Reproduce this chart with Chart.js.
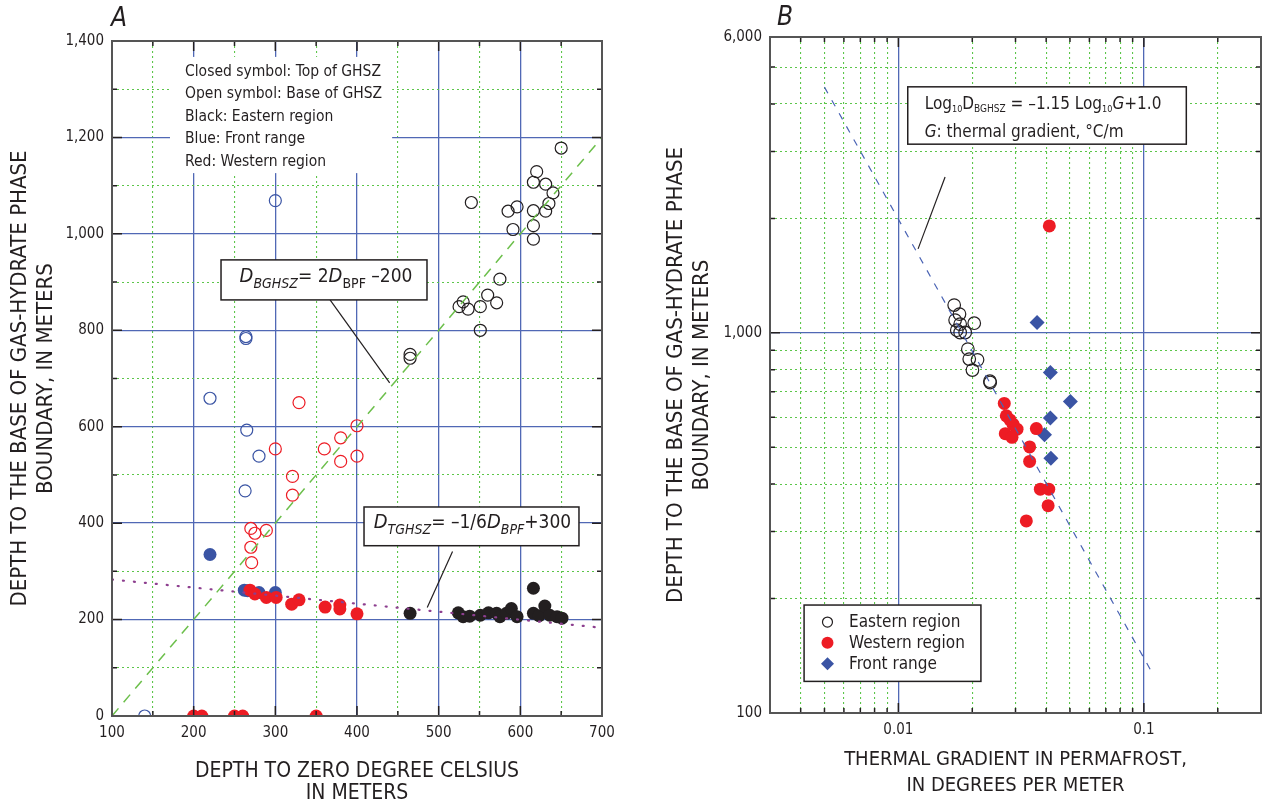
<!DOCTYPE html>
<html>
<head>
<meta charset="utf-8">
<script src="https://cdn.jsdelivr.net/npm/chart.js@4.4.1/dist/chart.umd.min.js"></script>
<style>
  html, body { margin: 0; padding: 0; background: #fff; overflow: hidden; width: 1262px; height: 805px; }
  #wrapA { position: absolute; left: 0; top: 0; width: 640px; height: 805px; }
  #wrapB { position: absolute; left: 640px; top: 0; width: 629px; height: 805px; }
</style>
</head>
<body>
<div id="wrapA"><canvas id="chartA"></canvas></div>
<div id="wrapB"><canvas id="chartB"></canvas></div>
<script>
const FONT = "'Liberation Sans Narrow', 'DejaVu Sans Condensed', 'Arial Narrow', Roboto, sans-serif";
const INK = '#231f20';
const BLUE = '#3a54a4';
const RED = '#ed1c24';
const GRID_BLUE = '#5068b5';
const GRID_GREEN = '#5cc64a';

// ---- panel A: [depth to 0 degC (m), depth to phase boundary (m)] ----
const eastTopA = [[465,213],[616,265],[524,214],[530,206],[538,207],[551,209],[561,214],[571,213],
  [575,206],[583,213],[589,223],[596,206],[616,213],[623,208],[630,228],[636,209],[645,206],[651,203]];
const eastBaseA = [[650,1178],[620,1129],[616,1107],[631,1103],[640,1085],[540,1065],[635,1063],[596,1056],
  [585,1047],[616,1048],[631,1047],[616,1017],[591,1009],[616,989],[575,906],[560,873],[530,859],
  [525,849],[536,844],[551,849],[571,857],[551,800],[465,750],[465,742]];
const frontTopA = [[220,335],[262,261],[266,260],[280,256],[300,256]];
const frontBaseA = [[300,1069],[264,787],[264,783],[220,659],[265,593],[280,539],[263,467],[140,0]];
const westTopA = [[269,261],[275,253],[289,246],[301,246],[320,232],[329,241],[361,226],[379,230],
  [379,222],[400,212],[200,0],[210,0],[250,0],[260,0],[350,0]];
const westBaseA = [[329,650],[300,554],[400,602],[380,577],[360,554],[380,528],[400,539],[321,497],
  [321,458],[270,389],[275,379],[289,385],[270,350],[271,318]];
const bghszLineA = [[100,0],[700,1200]];
const tghszLineA = [[100,283],[700,183]];

const xTicksA = [100,150,200,250,300,350,400,450,500,550,600,650,700];
const xLabelValsA = [100,200,300,400,500,600,700];
const xLabelsA = ['100','200','300','400','500','600','700'];
const yTicksA = [0,100,200,300,400,500,600,700,800,900,1000,1100,1200,1300,1400];
const yLabelValsA = [0,200,400,600,800,1000,1200,1400];
const yLabelsA = ['0','200','400','600','800','1,000','1,200','1,400'];

// ---- panel B: [thermal gradient (degC/m), depth to base of GHSZ (m)] ----
const eastB = [[0.01688,1183],[0.01774,1120],[0.01703,1080],[0.01785,1054],[0.02037,1060],[0.01785,1002],
  [0.01871,1002],[0.0173,1016],[0.01919,906],[0.01944,853],[0.02101,849],[0.02003,798],[0.02366,740],[0.0236,746]];
const westB = [[0.0270,652],[0.02753,605],[0.0293,575],[0.03044,558],[0.02726,543],[0.02903,531],[0.0285,590],
  [0.03648,560],[0.03425,501],[0.03425,459],[0.03787,388],[0.04098,388],[0.04074,351],[0.03321,320],[0.0412,1911]];
const frontB = [[0.03673,1064],[0.0416,786],[0.0502,660],[0.0416,597],[0.03937,539],[0.0418,468]];
const fitLineB = [[0.005,4430],[0.11,125]];

const xTicksB = [0.003,0.004,0.005,0.006,0.007,0.008,0.009,0.01,0.02,0.03,0.04,0.05,0.06,0.07,0.08,0.09,0.1,0.2,0.3];
const xLabelValsB = [0.01,0.1];
const xLabelsB = ['0.01','0.1'];
const yTicksB = [100,200,300,400,500,600,700,800,900,1000,2000,3000,4000,5000,6000];
const yLabelValsB = [100,1000,6000];
const yLabelsB = ['100','1,000','6,000'];

const legendTextA = ['Closed symbol: Top of GHSZ','Open symbol: Base of GHSZ','Black: Eastern region',
  'Blue: Front range','Red: Western region'];
const legendB = ['Eastern region','Western region','Front range'];

function xy(arr) { return arr.map(p => ({x: p[0], y: p[1]})); }
function labelFor(vals, labels) {
  return v => {
    const i = vals.findIndex(a => Math.abs(a - v) < 1e-9 * Math.max(1, a));
    return i < 0 ? '' : labels[i];
  };
}
const pow10 = v => Math.abs(Math.log10(v) - Math.round(Math.log10(v))) < 1e-6;

function pts(data, fill, stroke, r, bw, style) {
  return {
    type: 'scatter', data: xy(data), pointStyle: style || 'circle',
    pointRadius: r, pointHoverRadius: r, pointBackgroundColor: fill,
    pointBorderColor: stroke, pointBorderWidth: bw, clip: 0
  };
}
function lineDs(data, color, dash, w, cap) {
  return {
    type: 'line', data: xy(data), borderColor: color, borderWidth: w, borderDash: dash,
    borderCapStyle: cap || 'butt', pointRadius: 0, fill: false, clip: 0
  };
}

function axis(opts) {
  const major = opts.major;
  return {
    type: opts.type, min: opts.min, max: opts.max,
    afterBuildTicks: s => { s.ticks = opts.ticks.map(v => ({value: v})); },
    afterFit: s => { if (opts.w) s.width = opts.w; if (opts.h) s.height = opts.h; },
    grid: {
      drawTicks: false,
      color: c => c.tick && major(c.tick.value) ? GRID_BLUE : GRID_GREEN,
      lineWidth: c => c.tick && major(c.tick.value) ? 1.3 : 1.1
    },
    border: { display: false, dash: c => c.tick && major(c.tick.value) ? [] : [2, 3] },
    ticks: {
      autoSkip: false, maxRotation: 0, padding: 8, color: INK,
      font: {family: FONT, size: 15}, callback: opts.label
    },
    title: {
      display: true, text: opts.title, color: INK,
      font: {family: FONT, size: opts.ts, lineHeight: opts.lh}, padding: opts.tpad
    }
  };
}

function rich(ctx, segs, x, y, align) {
  const f = s => (s[2] ? 'italic ' : '') + s[1] + 'px ' + FONT;
  let w = 0;
  segs.forEach(s => { ctx.font = f(s); w += ctx.measureText(s[0]).width; });
  let cx = align === 'center' ? x - w / 2 : x;
  ctx.textAlign = 'left';
  ctx.textBaseline = 'alphabetic';
  segs.forEach(s => { ctx.font = f(s); ctx.fillText(s[0], cx, y + (s[3] || 0)); cx += ctx.measureText(s[0]).width; });
}

function box(ctx, x1, y1, x2, y2, border) {
  ctx.fillStyle = '#fff';
  ctx.fillRect(x1, y1, x2 - x1, y2 - y1);
  if (border) {
    ctx.strokeStyle = INK; ctx.lineWidth = 1.5;
    ctx.strokeRect(x1, y1, x2 - x1, y2 - y1);
  }
}

function leader(ctx, x1, y1, x2, y2) {
  ctx.strokeStyle = INK; ctx.lineWidth = 1.2;
  ctx.beginPath(); ctx.moveTo(x1, y1); ctx.lineTo(x2, y2); ctx.stroke();
}

function frame(chart, majorX, majorY) {
  const {ctx, chartArea: a, scales: {x, y}} = chart;
  ctx.save();
  ctx.strokeStyle = INK; ctx.lineWidth = 1.5;
  ctx.beginPath();
  x.ticks.forEach(t => {
    const p = x.getPixelForValue(t.value), len = majorX(t.value) ? 10 : 5;
    ctx.moveTo(p, a.bottom); ctx.lineTo(p, a.bottom - len);
    ctx.moveTo(p, a.top); ctx.lineTo(p, a.top + len);
  });
  y.ticks.forEach(t => {
    const p = y.getPixelForValue(t.value), len = majorY(t.value) ? 10 : 5;
    ctx.moveTo(a.left, p); ctx.lineTo(a.left + len, p);
    ctx.moveTo(a.right, p); ctx.lineTo(a.right - len, p);
  });
  ctx.stroke();
  ctx.strokeStyle = '#555'; ctx.lineWidth = 2;
  ctx.strokeRect(a.left, a.top, a.right - a.left, a.bottom - a.top);
  ctx.restore();
}

const majorXA = v => v % 100 === 0;
const majorYA = v => v % 200 === 0;

const decorA = {
  id: 'decorA',
  afterDatasetsDraw(chart) {
    const {ctx, scales: {x, y}} = chart;
    const X = v => x.getPixelForValue(v), Y = v => y.getPixelForValue(v);
    ctx.save();
    // explanation block
    const top = Y(1367);
    box(ctx, X(171), top, X(443), Y(1126), false);
    ctx.fillStyle = INK; ctx.font = '15.5px ' + FONT; ctx.textAlign = 'left'; ctx.textBaseline = 'alphabetic';
    legendTextA.forEach((t, i) => ctx.fillText(t, X(171) + 15, top + 19 + i * 22.5));
    // equation boxes
    leader(ctx, X(367), Y(863), X(440), Y(691));
    box(ctx, X(233.5), Y(946), X(485.7), Y(863), true);
    ctx.fillStyle = INK;
    rich(ctx, [['D',20,1,0],['BGHSZ',14,1,6],['= 2',19,0,0],['D',20,1,0],['BPF',14,0,6],[' \u2013200',19,0,0]],
      (X(233.5) + X(485.7)) / 2 + 2, Y(946) + 22, 'center');
    leader(ctx, X(517), Y(341), X(486), Y(225));
    box(ctx, X(408.6), Y(433.5), X(671.8), Y(353.2), true);
    ctx.fillStyle = INK;
    rich(ctx, [['D',20,1,0],['TGHSZ',14,1,6],['= \u20131/6',19,0,0],['D',20,1,0],['BPF',14,1,6],['+300',19,0,0]],
      (X(408.6) + X(671.8)) / 2 + 1, Y(433.5) + 21, 'center');
    ctx.restore();
    frame(chart, majorXA, majorYA);
    ctx.save();
    ctx.fillStyle = INK; ctx.font = 'italic 26px ' + FONT; ctx.textAlign = 'center'; ctx.textBaseline = 'middle';
    ctx.fillText('A', chart.chartArea.left + 7, 19);
    ctx.restore();
  }
};

const decorB = {
  id: 'decorB',
  afterDatasetsDraw(chart) {
    const {ctx, scales: {x, y}} = chart;
    const X = v => x.getPixelForValue(v), Y = v => y.getPixelForValue(v);
    ctx.save();
    leader(ctx, X(0.0155), Y(2570), X(0.01203), Y(1663));
    const bx1 = X(0.01092), by1 = Y(4437);
    box(ctx, bx1, by1, X(0.1489), Y(3135), true);
    ctx.fillStyle = INK;
    rich(ctx, [['Log',17,0,0],['10',9,0,3],['D',17,0,0],['BGHSZ',10,0,3],[' = \u20131.15 Log',17,0,0],
      ['10',9,0,3],['G',17,1,0],['+1.0',17,0,0]], bx1 + 17, by1 + 22, 'left');
    rich(ctx, [['G',17,1,0],[': thermal gradient, \u00b0C/m',17,0,0]], bx1 + 17, by1 + 50, 'left');
    // legend
    const lx = X(0.00413), ly = Y(192.3);
    box(ctx, lx, ly, X(0.02169), Y(121.1), true);
    const rows = [17, 37.7, 58.7];
    ctx.font = '17px ' + FONT; ctx.textAlign = 'left'; ctx.textBaseline = 'middle';
    legendB.forEach((t, i) => {
      const cy = ly + rows[i], cx = lx + 23.4;
      ctx.beginPath();
      if (i === 2) {
        ctx.moveTo(cx, cy - 6.5); ctx.lineTo(cx + 6.5, cy); ctx.lineTo(cx, cy + 6.5); ctx.lineTo(cx - 6.5, cy); ctx.closePath();
        ctx.fillStyle = BLUE; ctx.fill();
      } else if (i === 1) {
        ctx.arc(cx, cy, 6, 0, Math.PI * 2); ctx.fillStyle = RED; ctx.fill();
      } else {
        ctx.arc(cx, cy, 5, 0, Math.PI * 2); ctx.strokeStyle = INK; ctx.lineWidth = 1.2; ctx.stroke();
      }
      ctx.fillStyle = INK;
      ctx.fillText(t, lx + 45, cy + 1);
    });
    ctx.restore();
    frame(chart, pow10, pow10);
    ctx.save();
    ctx.fillStyle = INK; ctx.font = 'italic 26px ' + FONT; ctx.textAlign = 'center'; ctx.textBaseline = 'middle';
    ctx.fillText('B', chart.chartArea.left + 15, 18);
    ctx.restore();
  }
};

const common = {
  animation: false, responsive: true, maintainAspectRatio: false, events: [],
  plugins: { legend: {display: false}, tooltip: {enabled: false} }
};

new Chart(document.getElementById('chartA'), {
  type: 'scatter',
  data: {
    datasets: [
      lineDs(bghszLineA, '#6cbf4b', [10, 8], 1.5),
      lineDs(tghszLineA, '#8d3f8f', [1, 10], 2.2, 'round'),
      pts(westTopA, RED, RED, 6.5, 0),
      pts(frontTopA, BLUE, BLUE, 6.5, 0),
      pts(eastTopA, INK, INK, 6.5, 0),
      pts(westBaseA, 'rgba(0,0,0,0)', RED, 6, 1.2),
      pts(frontBaseA, 'rgba(0,0,0,0)', BLUE, 6, 1.2),
      pts(eastBaseA, 'rgba(0,0,0,0)', INK, 6, 1.2)
    ]
  },
  options: Object.assign({}, common, {
    layout: { padding: {top: 41, right: 38, left: 0, bottom: 0} },
    scales: {
      x: axis({type: 'linear', min: 100, max: 700, ticks: xTicksA, major: majorXA, h: 89,
        label: labelFor(xLabelValsA, xLabelsA), title: ['DEPTH TO ZERO DEGREE CELSIUS', 'IN METERS'],
        ts: 21, lh: 1.05, tpad: {top: 0, bottom: 0}}),
      y: axis({type: 'linear', min: 0, max: 1400, ticks: yTicksA, major: majorYA, w: 112,
        label: labelFor(yLabelValsA, yLabelsA), title: ['DEPTH TO THE BASE OF GAS-HYDRATE PHASE', 'BOUNDARY, IN METERS'],
        ts: 22, lh: 1.18, tpad: {top: 7, bottom: 0}})
    }
  }),
  plugins: [decorA]
});

new Chart(document.getElementById('chartB'), {
  type: 'scatter',
  data: {
    datasets: [
      lineDs(fitLineB, '#4a63b4', [7, 8], 1.2),
      pts(westB, RED, RED, 6.5, 0),
      pts(frontB, BLUE, BLUE, 7.5, 0, 'rectRot'),
      pts(eastB, 'rgba(0,0,0,0)', INK, 6.3, 1.2)
    ]
  },
  options: Object.assign({}, common, {
    layout: { padding: {top: 37, right: 2, left: 0, bottom: 0} },
    scales: {
      x: axis({type: 'logarithmic', min: 0.003, max: 0.3, ticks: xTicksB, major: pow10, h: 92,
        label: labelFor(xLabelValsB, xLabelsB), title: ['THERMAL GRADIENT IN PERMAFROST,', 'IN DEGREES PER METER'],
        ts: 20, lh: 1.3, tpad: {top: 0, bottom: 6}}),
      y: axis({type: 'logarithmic', min: 100, max: 6000, ticks: yTicksB, major: pow10, w: 130,
        label: labelFor(yLabelValsB, yLabelsB), title: ['DEPTH TO THE BASE OF GAS-HYDRATE PHASE', 'BOUNDARY, IN METERS'],
        ts: 22, lh: 1.18, tpad: {top: 23, bottom: 0}})
    }
  }),
  plugins: [decorB]
});
</script>
</body>
</html>
